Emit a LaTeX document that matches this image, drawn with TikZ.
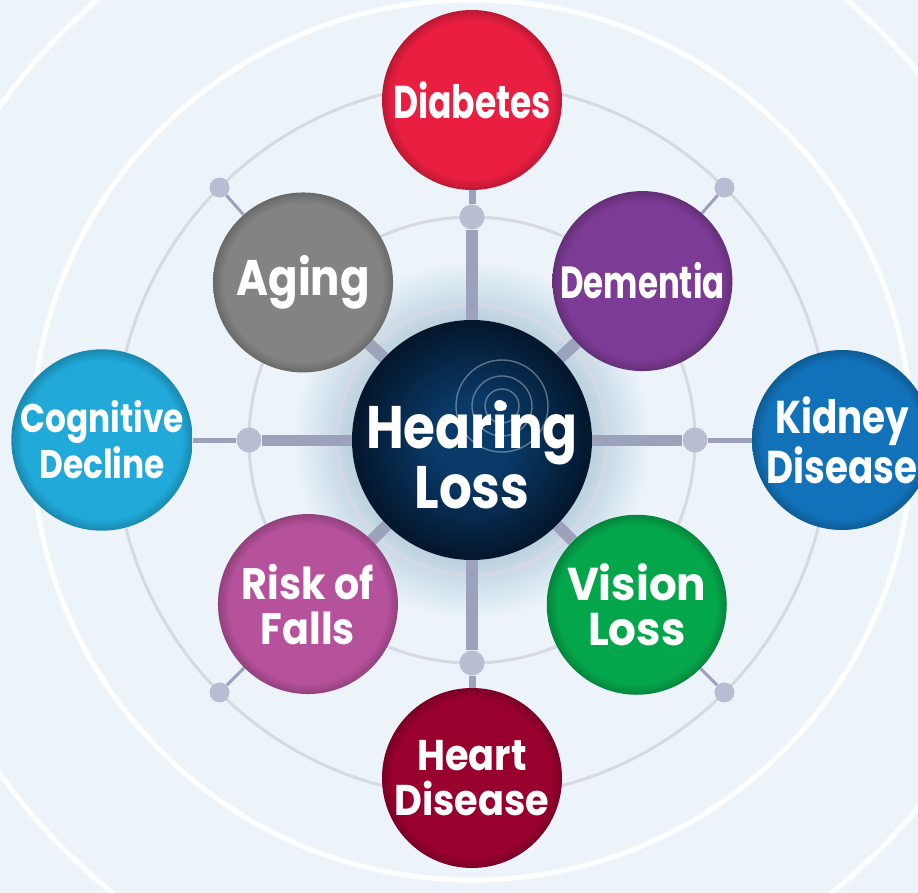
\documentclass[tikz,border=0pt]{standalone}
\usepackage{fontspec}
\usepackage{tikz}
\usetikzlibrary{calc,positioning}
\newfontfamily\satfont{Poppins}
\newcommand\lblfont[3]{\satfont\bfseries\addfontfeatures{FakeStretch=#1}\fontsize{#2}{#3}\selectfont}

\definecolor{bgcol}{HTML}{ECF4FA}
\definecolor{ringcol}{HTML}{D6D9E4}
\definecolor{spokecol}{HTML}{9CA2BA}
\definecolor{dotcol}{HTML}{B9BDD1}
\definecolor{glowcol}{HTML}{BCD1DF}
\definecolor{hubin}{HTML}{0A3A68}
\definecolor{hubout}{HTML}{03162B}
\definecolor{diabred}{HTML}{EA1E41}
\definecolor{dempurple}{HTML}{7C3B95}
\definecolor{kidblue}{HTML}{1172B9}
\definecolor{visgreen}{HTML}{04A64B}
\definecolor{heartred}{HTML}{98002E}
\definecolor{fallpink}{HTML}{B6519C}
\definecolor{cogcyan}{HTML}{20A9D9}
\definecolor{agegrey}{HTML}{838383}
\colorlet{satcol}{agegrey}
\colorlet{satrim}{agegrey}

\pgfdeclarelayer{back}
\pgfsetlayers{back,main}
% a path shows the middle 50bp of a shading, so its rim sits at 25bp
\pgfdeclareradialshading[satcol,satrim]{rimshade}{\pgfpointorigin}{color(0bp)=(satcol); color(22bp)=(satcol); color(25bp)=(satrim); color(50bp)=(satrim)}
\pgfdeclareradialshading{hubshade}{\pgfpointorigin}{color(0bp)=(hubin); color(8bp)=(hubin); color(25bp)=(hubout); color(50bp)=(hubout)}
% background with the halo round the centre (radius 700 -> 25bp)
\pgfdeclareradialshading{glowshade}{\pgfpointorigin}{color(0bp)=(glowcol); color(4.3bp)=(glowcol); color(6.4bp)=(bgcol); color(50bp)=(bgcol)}

\tikzset{
  snode/.style={circle, minimum size=180pt, inner sep=0pt, align=center, text=white,
    /utils/exec={\colorlet{satcol}{#1}\colorlet{satrim}{#1!80!black}}, shade, shading=rimshade},
  hnode/.style={circle, minimum size=240pt, inner sep=0pt, shade, shading=hubshade},
  htext/.style={align=center, text=white, font=\lblfont{0.86}{60}{57}},
  dnode/.style={circle, fill=dotcol, inner sep=0pt, minimum size=#1},
  ring/.style={draw=ringcol, line width=3pt},
  wring/.style={draw=white, line width=5pt},
  spoke/.style={draw=spokecol, line width=#1}
}

\begin{document}
\begin{tikzpicture}[x=1pt,y=1pt]
  \useasboundingbox (-472,-452) rectangle (446,440);
  \clip (-472,-452) rectangle (446,440);

  % centre and the eight conditions around it
  \node[hnode, path picture={
      \begin{scope}[shift={(path picture bounding box.center)}]
        \foreach \r in {17,30,46}
          \draw[white, opacity=.35, line width=1.4pt] (30,34) circle (\r);
        \fill[white] (30,34) circle (5);
      \end{scope}}] (hub) at (0,0) {};
  \node[htext, yshift=-15pt] (hubtext) at (hub.center) {Hearing\\Loss};

  \node[snode=diabred, font=\lblfont{0.75}{46}{45}]   (diabetes)  at (90:340)  {Diabetes};
  \node[snode=dempurple, font=\lblfont{0.72}{45}{45}] (dementia)  at (43:233)  {Dementia};
  \node[snode=kidblue, font=\lblfont{0.81}{46}{43}]   (kidney)    at (0:370)   {Kidney\\Disease};
  \node[snode=visgreen, font=\lblfont{0.95}{46}{45}]  (vision)    at (-45:233) {Vision\\Loss};
  \node[snode=heartred, font=\lblfont{0.89}{43}{45}]  (heart)     at (270:338) {Heart\\Disease};
  \node[snode=fallpink, font=\lblfont{0.9}{44}{45}]   (falls)     at (225:232) {Risk of\\Falls};
  \node[snode=cogcyan, font=\lblfont{0.82}{40}{46}]   (cognitive) at (180:370) {Cognitive\\Decline};
  \node[snode=agegrey, font=\lblfont{0.87}{50}{45}]   (aging)     at (137:231) {Aging};

  % joints on the rings
  \foreach \a/\n in {90/dtop,0/dright,270/dbot,180/dleft}
    \node[dnode=25pt] (\n) at (\a:223) {};
  \foreach \a/\n in {45/dne,135/dnw,225/dsw,315/dse}
    \node[dnode=20pt] (\n) at (\a:357) {};

  \begin{pgfonlayer}{back}
    \fill[shading=glowshade] (hub.center) circle (700);
    \draw[wring] (hub.center) circle (440);
    \draw[wring] (hub.center) circle (578);
    \draw[ring] (hub.center) circle (135);
    \draw[ring] (hub.center) circle (223);
    \draw[ring] (hub.center) circle (357);

    % spokes
    \draw[spoke=12pt] (hub) -- (dtop);
    \draw[spoke=7pt]  (dtop) -- (diabetes);
    \draw[spoke=12pt] (hub) -- (dbot);
    \draw[spoke=7pt]  (dbot) -- (heart);
    \draw[spoke=11pt] (hub) -- (dleft);
    \draw[spoke=5pt]  (dleft) -- (cognitive);
    \draw[spoke=11pt] (hub) -- (dright);
    \draw[spoke=5pt]  (dright) -- (kidney);
    \foreach \s/\d in {dementia/dne,aging/dnw,falls/dsw,vision/dse} {
      \draw[spoke=12pt] (hub) -- (\s);
      \draw[spoke=3pt]  (\s) -- (\d);
    }
  \end{pgfonlayer}
\end{tikzpicture}
\end{document}
